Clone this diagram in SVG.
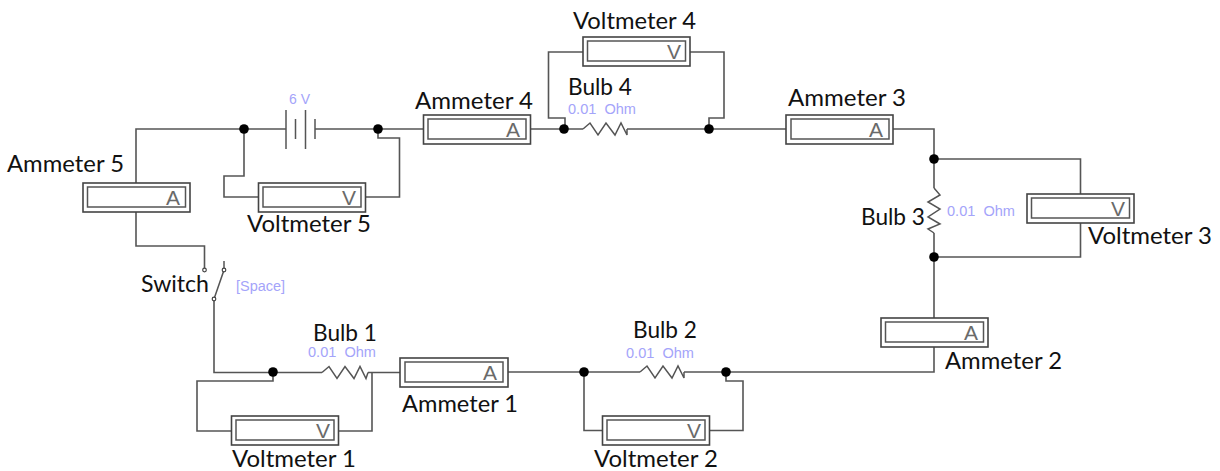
<svg xmlns="http://www.w3.org/2000/svg" width="1220" height="471" viewBox="0 0 1220 471">
<style>
.w{fill:none;stroke:#555;stroke-width:1.6}
.c{fill:none;stroke:#555;stroke-width:1.5}
.o{fill:#fff;stroke:#444;stroke-width:1.6}
.i{fill:#fff;stroke:#555;stroke-width:1.5}
.m{font-family:"Liberation Sans",Arial,sans-serif;font-size:21px;fill:#6a6a6a}
.l{font-family:Lato,"Open Sans",sans-serif;font-size:23px;fill:#111}
.b{font-family:"Liberation Sans",Arial,sans-serif;font-size:14px;fill:#a4a4fa;white-space:pre}
.d{fill:#000}
.s{fill:#fff;stroke:#444;stroke-width:1.2}
</style>
<rect width="1220" height="471" fill="#fff"/>
<g id="connectors">
<path class="w" d="M136 183V129H286M315 129H423"/>
<path class="w" d="M244 129V176H224V197H258M365 197H399.500V138H378V129"/>
<path class="w" d="M531 129H583M627 129H786"/>
<path class="w" d="M583 52H548.500V118H565V129M690 52H724V118H709V129"/>
<path class="w" d="M893 129H934V188M934 233V318"/>
<path class="w" d="M934 159H1080.500V194M1080.500 223V257H934"/>
<path class="w" d="M934 347V372H684M640 372H508"/>
<path class="w" d="M584 372V430.500H602M710 430.500H743V381H726V372"/>
<path class="w" d="M400 372.500H368M322 372.500H214V299"/>
<path class="w" d="M273 372V381H197V431H231M339 431H372V372"/>
<path class="w" d="M136 212V246H204.500V270"/>
<g class="d">
<circle cx="244" cy="129" r="4.800"/><circle cx="378" cy="129" r="4.800"/>
<circle cx="564" cy="129" r="4.800"/><circle cx="709" cy="129" r="4.800"/>
<circle cx="934" cy="159" r="4.800"/><circle cx="934" cy="257" r="4.800"/>
<circle cx="726" cy="372" r="4.800"/><circle cx="584" cy="372" r="4.800"/>
<circle cx="273" cy="372" r="4.800"/>
</g>
</g>
<g id="battery">
<path class="c" d="M286 110V149M295.500 119V139M305.500 110V149M315 119V139"/>
<text class="b" x="289" y="104" textLength="21" lengthAdjust="spacingAndGlyphs">6 V</text>
</g>
<g id="switch">
<path class="c" d="M224 261V270L214 299"/>
<circle class="s" cx="204.500" cy="270" r="1.800"/><circle class="s" cx="224" cy="270" r="1.800"/><circle class="s" cx="214" cy="299" r="1.800"/>
<text class="l" x="141" y="292" textLength="68" lengthAdjust="spacingAndGlyphs">Switch</text>
<text class="b" x="236" y="291" textLength="49" lengthAdjust="spacingAndGlyphs">[Space]</text>
</g>
<g id="bulb1">
<path class="c" d="M322 372.500L329 366.500L337 378.500L345 366.500L354 378.500L360 366.500L366 378.500L368 372.500"/>
<text class="l" x="313" y="341" textLength="64" lengthAdjust="spacingAndGlyphs">Bulb 1</text>
<text class="b" x="308" y="357" textLength="68" lengthAdjust="spacingAndGlyphs">0.01  Ohm</text>
</g>
<g id="bulb2">
<path class="c" d="M640 372L647 366L655 378L663 366L672 378L678 366L684 378L684 372"/>
<text class="l" x="633" y="338" textLength="64" lengthAdjust="spacingAndGlyphs">Bulb 2</text>
<text class="b" x="626" y="358" textLength="68" lengthAdjust="spacingAndGlyphs">0.01  Ohm</text>
</g>
<g id="bulb3">
<path class="c" d="M934 188L940 195L928 202L940 209L928 217L940 224L928 229L934 233"/>
<text class="l" x="861" y="225" textLength="64" lengthAdjust="spacingAndGlyphs">Bulb 3</text>
<text class="b" x="947" y="216" textLength="68" lengthAdjust="spacingAndGlyphs">0.01  Ohm</text>
</g>
<g id="bulb4">
<path class="c" d="M583 129L590 123L598 135L606 123L615 135L621 123L627 135L627 129"/>
<text class="l" x="568" y="95" textLength="64" lengthAdjust="spacingAndGlyphs">Bulb 4</text>
<text class="b" x="568" y="114" textLength="68" lengthAdjust="spacingAndGlyphs">0.01  Ohm</text>
</g>
<g id="ammeter1"><rect class="o" x="400" y="358" width="108" height="29"/><rect class="i" x="405" y="362" width="98" height="20"/><text class="m" x="483" y="380">A</text>
<text class="l" x="402" y="412" textLength="116" lengthAdjust="spacingAndGlyphs">Ammeter 1</text></g>
<g id="ammeter2"><rect class="o" x="881" y="318" width="107" height="29"/><rect class="i" x="885.500" y="322" width="98" height="20"/><text class="m" x="964" y="340">A</text>
<text class="l" x="945" y="369" textLength="117" lengthAdjust="spacingAndGlyphs">Ammeter 2</text></g>
<g id="ammeter3"><rect class="o" x="786" y="115" width="107" height="29"/><rect class="i" x="791" y="119" width="98" height="20"/><text class="m" x="869" y="137">A</text>
<text class="l" x="788" y="106" textLength="118" lengthAdjust="spacingAndGlyphs">Ammeter 3</text></g>
<g id="ammeter4"><rect class="o" x="423.500" y="115" width="107" height="29"/><rect class="i" x="428" y="119" width="98" height="20"/><text class="m" x="506" y="137">A</text>
<text class="l" x="415" y="109" textLength="118" lengthAdjust="spacingAndGlyphs">Ammeter 4</text></g>
<g id="ammeter5"><rect class="o" x="83" y="183" width="107" height="29"/><rect class="i" x="87.500" y="187" width="98" height="20"/><text class="m" x="166" y="205">A</text>
<text class="l" x="7" y="172" textLength="117" lengthAdjust="spacingAndGlyphs">Ammeter 5</text></g>
<g id="voltmeter1"><rect class="o" x="231.500" y="416" width="107" height="29"/><rect class="i" x="236" y="420" width="98" height="20"/><text class="m" x="316" y="438">V</text>
<text class="l" x="232" y="467" textLength="124" lengthAdjust="spacingAndGlyphs">Voltmeter 1</text></g>
<g id="voltmeter2"><rect class="o" x="602.500" y="416" width="107" height="29"/><rect class="i" x="607" y="420" width="98" height="20"/><text class="m" x="687" y="438">V</text>
<text class="l" x="594" y="467" textLength="124" lengthAdjust="spacingAndGlyphs">Voltmeter 2</text></g>
<g id="voltmeter3"><rect class="o" x="1027" y="194" width="107" height="29"/><rect class="i" x="1031.500" y="198" width="98" height="20"/><text class="m" x="1111" y="216">V</text>
<text class="l" x="1088" y="244" textLength="124" lengthAdjust="spacingAndGlyphs">Voltmeter 3</text></g>
<g id="voltmeter4"><rect class="o" x="583" y="37" width="107" height="29"/><rect class="i" x="587.500" y="41" width="98" height="20"/><text class="m" x="667" y="59">V</text>
<text class="l" x="573" y="29" textLength="123" lengthAdjust="spacingAndGlyphs">Voltmeter 4</text></g>
<g id="voltmeter5"><rect class="o" x="258.500" y="183" width="107" height="29"/><rect class="i" x="263" y="187" width="98" height="20"/><text class="m" x="342" y="205">V</text>
<text class="l" x="247" y="232" textLength="124" lengthAdjust="spacingAndGlyphs">Voltmeter 5</text></g>
</svg>
